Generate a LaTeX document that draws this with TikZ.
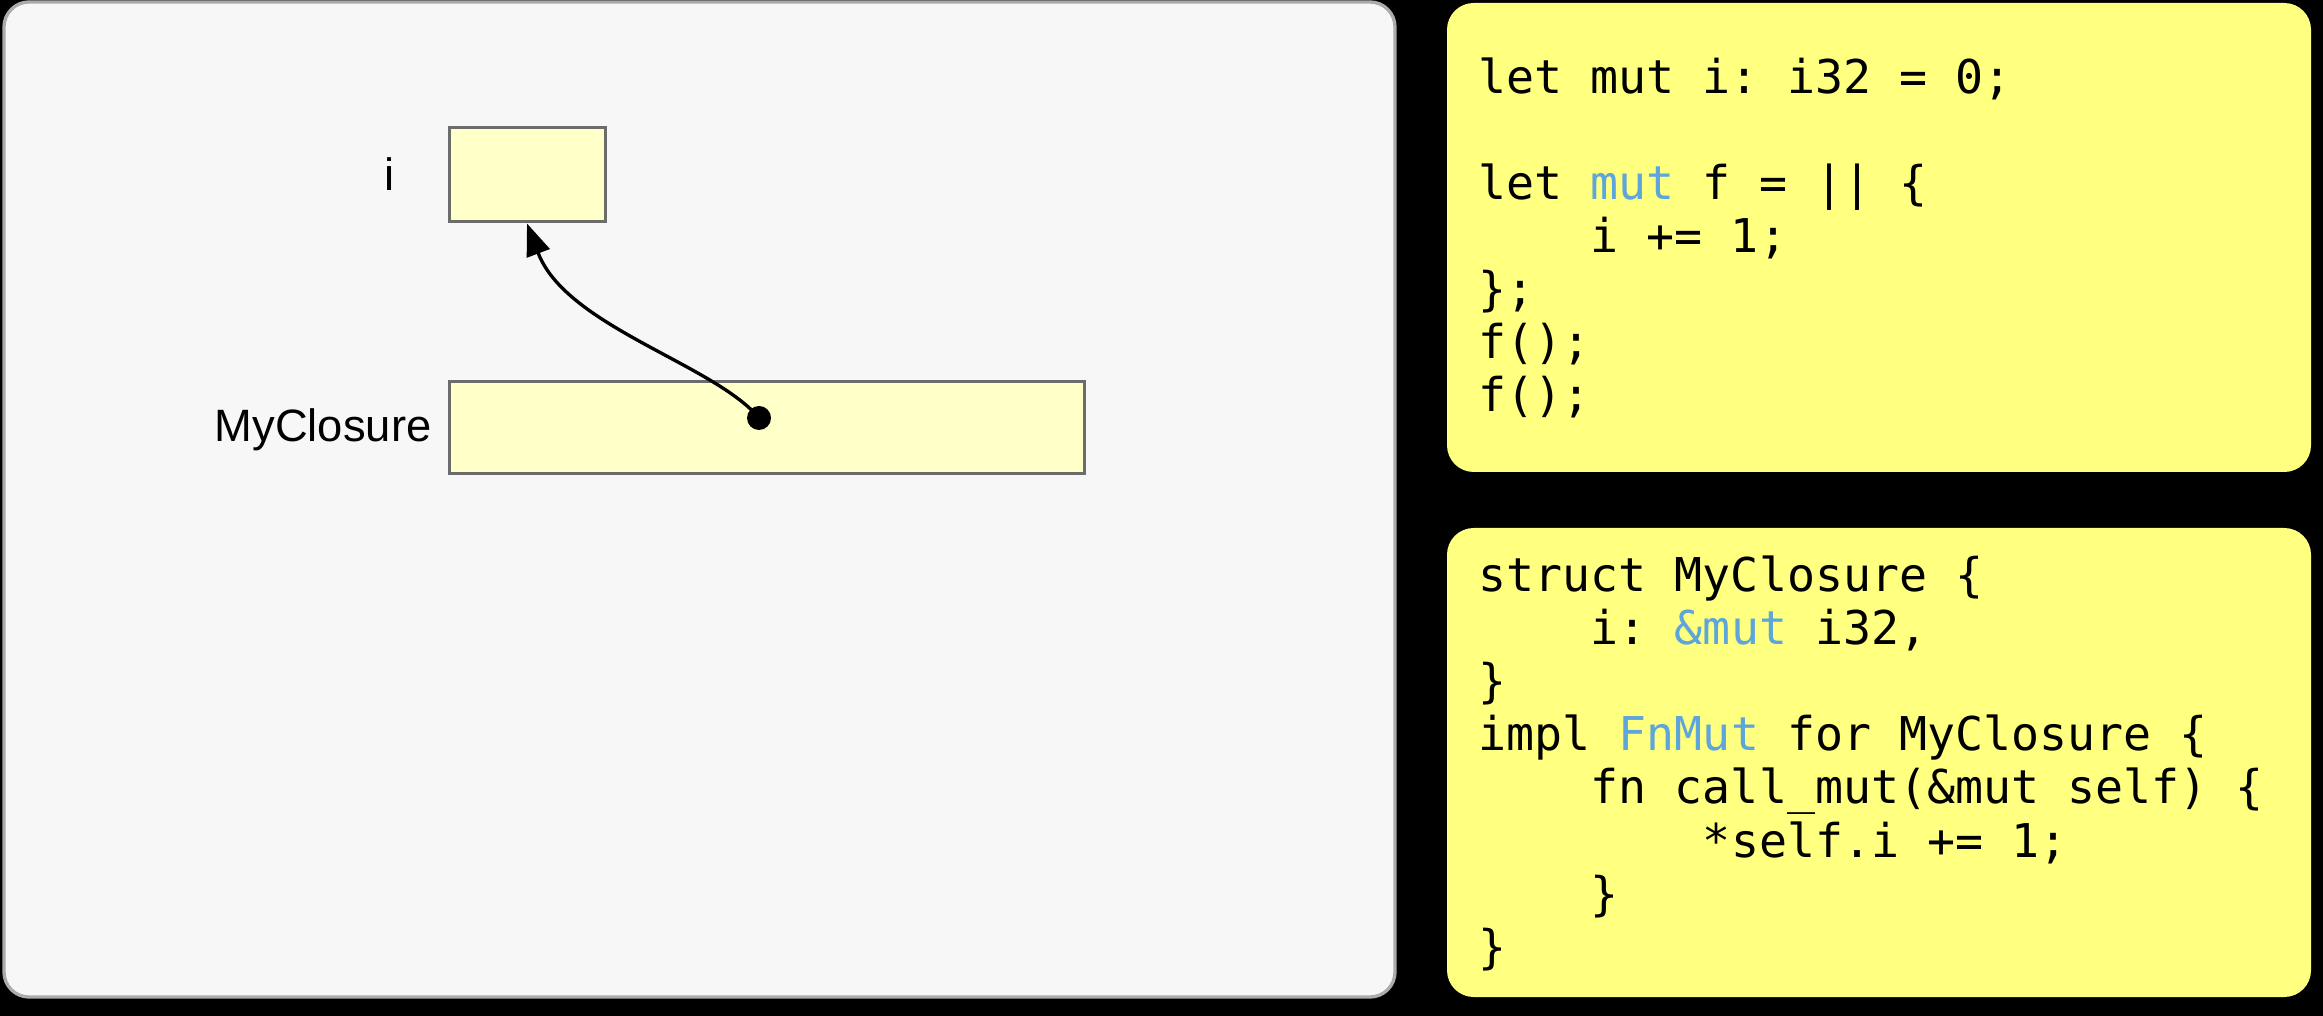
\documentclass[tikz,border=0pt]{standalone}
\usepackage{fontspec}
\setmainfont{Liberation Sans}
\setmonofont{DejaVu Sans Mono}
\usetikzlibrary{arrows.meta}

\definecolor{panelbg}{HTML}{F7F7F7}
\definecolor{panelline}{HTML}{ABABAB}
\definecolor{cellfill}{HTML}{FFFFC8}
\definecolor{cellline}{HTML}{6C6C6C}
\definecolor{codebg}{HTML}{FFFF80}
\definecolor{kw}{HTML}{5DA5DA}

\newcommand{\kwd}[1]{\textcolor{kw}{#1}}
\newcommand{\ind}{\phantom{0000}}

\tikzset{
  cell/.style={draw=cellline, fill=cellfill, line width=0.9pt, inner sep=0pt},
  lbl/.style={font=\fontsize{13.6}{16}\selectfont, inner sep=0pt},
  code/.style={font=\ttfamily\fontsize{13.97}{15.9}\selectfont, anchor=base west, inner sep=0pt},
  codebox/.style={fill=codebg, rounded corners=8pt},
  conn/.style={line width=1pt, -{Triangle[length=9.6pt,width=7.2pt]}},
}

\begin{document}
\begin{tikzpicture}[x=0.3pt,y=-0.3pt]
  % canvas
  \fill[black] (0,0) rectangle (2323,1016);
  \useasboundingbox (0,0) rectangle (2323,1016);

  % memory panel
  \draw[fill=panelbg, draw=panelline, line width=1pt, rounded corners=7.5pt]
    (4,2) rectangle (1395,997);

  % cells
  \node[cell, minimum width=46.8pt, minimum height=28.2pt] (ibox) at (527,175) {};
  \node[cell, minimum width=190.5pt, minimum height=27.6pt] (cbox) at (766.5,428) {};
  \node[lbl, anchor=base] (ilbl) at (390,191) {i};
  \node[lbl, anchor=base east] (clbl) at (432,442) {MyClosure};

  % reference from the closure to i
  \node[circle, fill=black, inner sep=0pt, minimum size=7.2pt] (dot) at (759,418) {};
  \draw[conn] (dot.center) .. controls +(-45,-54) and +(39,103) .. (ibox.south);

  % code panels
  \path[codebox] (1447,3) rectangle (2311,472);
  \path[codebox] (1447,528) rectangle (2311,997);

  \node[code] (a1) at (1478,94)  {let mut i: i32 = 0;};
  \node[code] (a2) at (1478,200) {let \kwd{mut} f = || \{};
  \node[code] (a3) at (1478,253) {\ind i += 1;};
  \node[code] (a4) at (1478,306) {\};};
  \node[code] (a5) at (1478,359) {f();};
  \node[code] (a6) at (1478,412) {f();};

  \node[code] (b1) at (1478,592) {struct MyClosure \{};
  \node[code] (b2) at (1478,645) {\ind i: \kwd{\&mut} i32,};
  \node[code] (b3) at (1478,698) {\}};
  \node[code] (b4) at (1478,751) {impl \kwd{FnMut} for MyClosure \{};
  \node[code] (b5) at (1478,804) {\ind fn call\_mut(\&mut self) \{};
  \node[code] (b6) at (1478,857) {\ind\ind *self.i += 1;};
  \node[code] (b7) at (1478,910) {\ind \}};
  \node[code] (b8) at (1478,963) {\}};
\end{tikzpicture}
\end{document}
